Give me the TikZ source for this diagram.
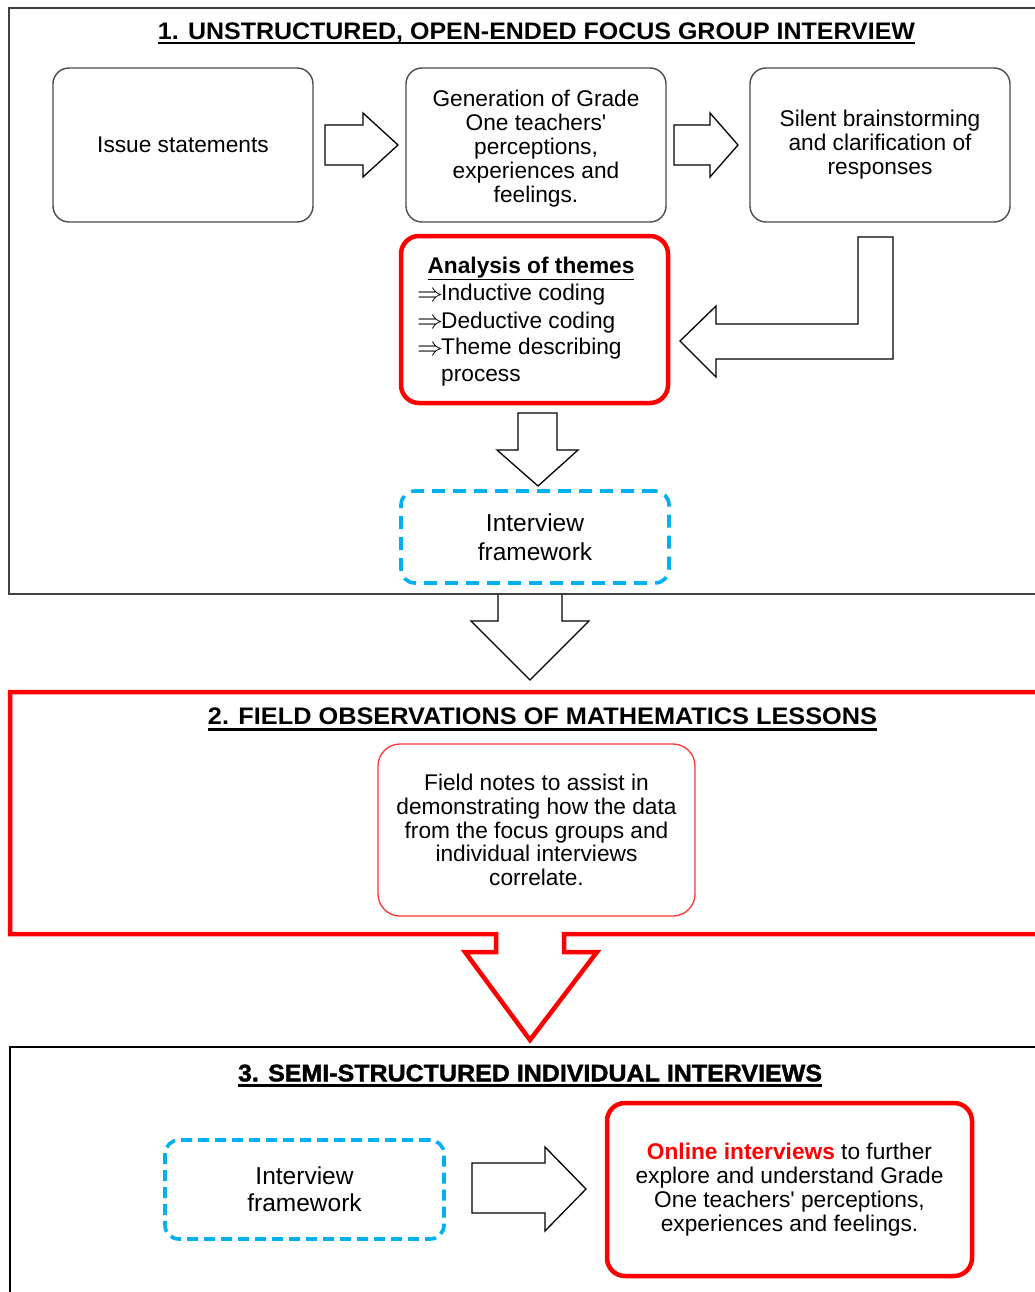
\documentclass[tikz,border=0pt]{standalone}
\usepackage{graphicx}
\usepackage{fontspec}
\setmainfont{Liberation Sans}
\newfontface\heavyface{Liberation Sans Bold}[FakeBold=1.6]
\usetikzlibrary{calc}

\definecolor{frameRed}{RGB}{255,0,0}
\definecolor{skyBlue}{RGB}{0,176,240}
\definecolor{boxGray}{RGB}{75,75,75}

\newcommand\bodysize[1]{\fontsize{22.7}{#1}\selectfont}
\newcommand\impl{\makebox[24pt][l]{\raisebox{-0.5pt}{\scalebox{1.25}{$\Rightarrow$}}}}
\newcommand\apos{\textquotesingle}

\begin{document}
\begin{tikzpicture}[x=1pt,y=-1pt,
  graybox/.style={draw=boxGray, line width=1.4pt, rounded corners=16pt,
    inner sep=0pt, align=center, font={\bodysize{24}}},
  redbox/.style={draw=frameRed, line width=4.5pt, rounded corners=18pt,
    inner sep=0pt, align=center, font={\bodysize{24}}},
  thinred/.style={draw=frameRed!80, line width=1.3pt, rounded corners=22pt,
    inner sep=0pt, align=center, font={\bodysize{23.6}}},
  dashbox/.style={draw=skyBlue, line width=3.6pt, dash pattern=on 13pt off 8pt,
    rounded corners=14pt, inner sep=0pt, align=center},
  blockarrow/.style={draw=black, line width=1.3pt, fill=white, line join=miter},
  titletext/.style={anchor=base, inner sep=0pt},
  bodytext/.style={inner sep=0pt, font={\bodysize{24}}}
]
\useasboundingbox (0,0) rectangle (1035,1292);

% ---------- section 1 frame ----------
\draw[black!75, line width=1.5pt] (1045,8) -- (9,8) -- (9,594) -- (1045,594);

\node[titletext] (t1) at (536.5,39.3)
  {\resizebox{757pt}{16.7pt}{\fontsize{23}{24}\selectfont\bfseries 1. UNSTRUCTURED, OPEN-ENDED FOCUS GROUP INTERVIEW}};
\draw[line width=2pt] ($(t1.base west)+(0,4)$) -- ($(t1.base east)+(0,4)$);

\node[graybox, minimum width=260pt, minimum height=154pt] (issue) at (183,145)
  {Issue statements};
\node[graybox, minimum width=260pt, minimum height=154pt] (gen) at (536,145)
  {\rule{0pt}{23.5pt}Generation of Grade\\One teachers\apos\\perceptions,\\experiences and\\feelings.};
\node[graybox, minimum width=260pt, minimum height=154pt] (silent) at (880,145)
  {Silent brainstorming\\and clarification of\\responses};

% right-pointing block arrows between the top boxes
\draw[blockarrow] (325,125) -- (363,125) -- (363,113) -- (398,145)
  -- (363,177) -- (363,165) -- (325,165) -- cycle;
\draw[blockarrow] (674,125) -- (710,125) -- (710,113) -- (738,145)
  -- (710,177) -- (710,165) -- (674,165) -- cycle;

% analysis box
\node[redbox, minimum width=267pt, minimum height=167pt] (analysis) at (534.5,319.5) {};
\node[bodytext, anchor=base] (antitle) at (531,273)
  {\bfseries\underline{Analysis of themes}};
\node[bodytext, anchor=base west] (an1) at (417,300.7) {\impl Inductive coding};
\node[bodytext, anchor=base west] (an2) at (417,328) {\impl Deductive coding};
\node[bodytext, anchor=base west] (an3) at (417,354.5) {\impl Theme describing};
\node[bodytext, anchor=base west] (an4) at (441,381) {process};

% bent arrow from the brainstorming box into the analysis box
\draw[blockarrow] (858,237) -- (893,237) -- (893,359) -- (716,359) -- (716,377)
  -- (680,341) -- (716,306) -- (716,324) -- (858,324) -- cycle;

% down arrow to the interview framework
\draw[blockarrow] (518,413) -- (518,450) -- (497,450) -- (538,486)
  -- (578,450) -- (557,450) -- (557,413) -- cycle;

\node[dashbox, minimum width=268pt, minimum height=92pt,
  font={\fontsize{24.5}{29}\selectfont}]
  (frame1) at (535,537) {Interview\\framework};

% arrow from section 1 to section 2
\draw[blockarrow] (498,595) -- (498,621) -- (471,621) -- (530,680)
  -- (589,621) -- (562,621) -- (562,595);

% ---------- section 2 frame with its red arrow ----------
\draw[frameRed, line width=4.5pt, line join=miter]
  (1045,692) -- (10,692) -- (10,934) -- (496,934) -- (496,952) -- (465,952)
  -- (530,1040) -- (597,952) -- (564,952) -- (564,934) -- (1045,934);

\node[titletext] (t2) at (542.5,724.3)
  {\resizebox{669pt}{16.7pt}{\fontsize{23}{24}\selectfont\bfseries 2. FIELD OBSERVATIONS OF MATHEMATICS LESSONS}};
\draw[line width=3pt] ($(t2.base west)+(0,5.5)$) -- ($(t2.base east)+(0,5.5)$);

\node[thinred, minimum width=317pt, minimum height=172pt] (notes) at (536.5,830)
  {Field notes to assist in\\demonstrating how the data\\from the focus groups and\\individual interviews\\correlate.};

% ---------- section 3 frame ----------
\draw[black, line width=2.5pt] (1045,1047) -- (10,1047) -- (10,1300);

\node[titletext] (t3) at (530,1081.3)
  {\resizebox{584pt}{16.7pt}{\fontsize{23}{24}\selectfont\heavyface 3. SEMI-STRUCTURED INDIVIDUAL INTERVIEWS}};
\draw[line width=3pt] ($(t3.base west)+(0,4)$) -- ($(t3.base east)+(0,4)$);

\node[dashbox, minimum width=279pt, minimum height=99pt, dash pattern=on 11pt off 6pt,
  font={\fontsize{24.5}{27}\selectfont}]
  (frame2) at (304.5,1189.5) {Interview\\framework};

\draw[blockarrow] (472,1163) -- (545,1163) -- (545,1147) -- (586,1189)
  -- (545,1231) -- (545,1213) -- (472,1213) -- cycle;

\node[redbox, minimum width=365pt, minimum height=173pt] (online) at (789.5,1189.5)
  {{\color{frameRed}\bfseries Online interviews} to further\\explore and understand Grade\\One teachers\apos\ perceptions,\\experiences and feelings.};
\end{tikzpicture}
\end{document}
